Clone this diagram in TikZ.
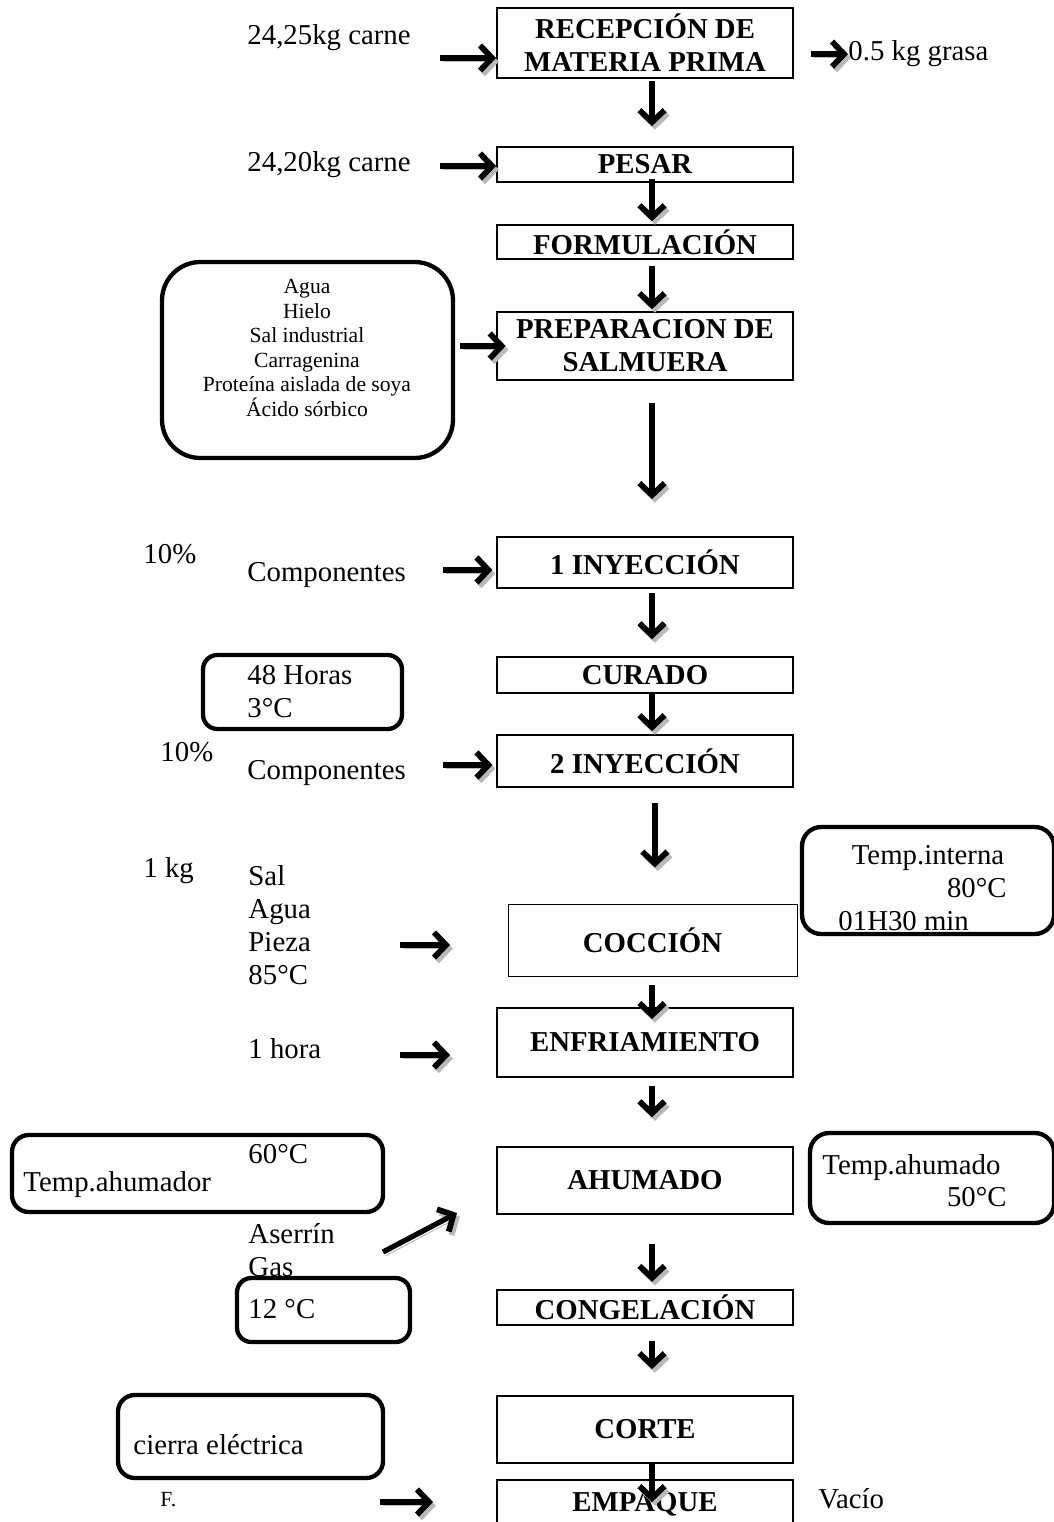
\documentclass[tikz,border=0pt]{standalone}
\usepackage{fontspec}
\setmainfont{Liberation Serif}
\usetikzlibrary{arrows.meta,positioning}
\tikzset{tam/.style 2 args={minimum width=#1*0.4167pt, minimum height=#2*0.4167pt}}

\begin{document}
\begin{tikzpicture}[
    x=0.4167pt, y=-0.4167pt,
    font=\fontsize{12}{13.8}\selectfont,
    etapa/.style={rectangle, draw, line width=0.8pt, inner sep=0pt, align=center, font=\fontsize{12}{13.8}\selectfont\bfseries},
    nota/.style={rectangle, draw, line width=1.8pt, rounded corners=#1, inner sep=0pt},
    txt/.style={inner sep=0pt, anchor=base west},
    flecha/.style={-{Straight Barb[length=5pt,width=10.5pt,line width=2.4pt]}, line width=2.2pt,
        preaction={draw=gray!55, transform canvas={shift={(1.2pt,-1.5pt)}}}}
]
\useasboundingbox (0,0) rectangle (1054,1522);
\clip (0,0) rectangle (1054,1522);
\coordinate (eje) at (652,0);

% etapas del proceso
\node[etapa, tam={296}{70}] (recepcion) at (645,43) {RECEPCIÓN DE\\MATERIA PRIMA};
\node[etapa, tam={296}{35}] (pesar) at (645,164.5) {PESAR};
\node[etapa, tam={296}{34}] (formulacion) at (645,242) {FORMULACIÓN};
\node[etapa, tam={296}{68}] (salmuera) at (645,346) {PREPARACION DE\\SALMUERA};
\node[etapa, tam={296}{51}] (iny1) at (645,562.5) {1 INYECCIÓN};
\node[etapa, tam={296}{36}] (curado) at (645,675) {CURADO};
\node[etapa, tam={296}{52}] (iny2) at (645,761) {2 INYECCIÓN};
\node[etapa, tam={289}{72}, line width=0.4pt] (coccion) at (652.5,940) {COCCIÓN};
\node[etapa, tam={296}{69}] (enfriamiento) at (645,1042.5) {ENFRIAMIENTO};
\node[etapa, tam={296}{67}] (ahumado) at (645,1180.5) {AHUMADO};
\node[etapa, tam={296}{35}] (congelacion) at (645,1307.5) {CONGELACIÓN};
\node[etapa, tam={296}{67}] (corte) at (645,1429.5) {CORTE};
\node[etapa, tam={296}{48}] (empaque) at (645,1504) {EMPAQUE};

% cuadros redondeados
\node[nota=16pt, tam={291}{196}] (ingred) at (307.5,360) {};
\node[nota=6pt, tam={199}{74}] (horasbox) at (302.5,692) {};
\node[nota=8pt, tam={252}{107}] (internabox) at (928,880.5) {};
\node[nota=7pt, tam={371}{77}] (ahumadorbox) at (197.5,1173.5) {};
\node[nota=8pt, tam={244}{90}] (ahumadobox) at (932,1178) {};
\node[nota=6pt, tam={173}{64}] (frio) at (323.5,1310) {};
\node[nota=7pt, tam={265}{83}] (cierrabox) at (250.5,1436.5) {};

% textos
\node[txt] (carne1) at (247,45) {24,25kg carne};
\node[txt] (grasa) at (848,61) {0.5 kg grasa};
\node[txt] (carne2) at (247,171) {24,20kg carne};
\node[align=center, font=\fontsize{9}{10.25}\selectfont] (lista) at (307,348)
    {Agua\\Hielo\\Sal industrial\\Carragenina\\Proteína aislada de soya\\Ácido sórbico};
\node[txt] (pct1) at (143,563) {10\%};
\node[txt] (comp1) at (247,581) {Componentes};
\node[txt] (horas) at (247,684) {48 Horas};
\node[txt] (tres) at (247,717) {3°C};
\node[txt] (pct2) at (160,761) {10\%};
\node[txt] (comp2) at (247,779) {Componentes};
\node[txt] (kg) at (143,877) {1 kg};
\node[txt] (sal) at (248,885) {Sal};
\node[txt] (agua) at (248,918) {Agua};
\node[txt] (pieza) at (248,951) {Pieza};
\node[txt] (ochenta5) at (248,984) {85°C};
\node[inner sep=0pt, anchor=base] (interna) at (928,864) {Temp.interna};
\node[inner sep=0pt, anchor=base east] (ochenta) at (1007,897) {80°C};
\node[txt] (tiempo) at (838,930) {01H30 min};
\node[txt] (hora) at (248,1058) {1 hora};
\node[txt] (sesenta) at (248,1163) {60°C};
\node[txt] (ahumador) at (23,1191) {Temp.ahumador};
\node[txt] (tahumado) at (822,1174) {Temp.ahumado};
\node[inner sep=0pt, anchor=base east] (cincuenta) at (1007,1206) {50°C};
\node[txt] (aserrin) at (248,1243) {Aserrín};
\node[txt] (gas) at (248,1276) {Gas};
\node[txt] (doce) at (248,1318) {12 °C};
\node[txt] (cierra) at (133,1454) {cierra eléctrica};
\node[txt, font=\fontsize{9}{10}\selectfont] (efe) at (160,1506) {F.};
\node[txt] (vacio) at (818,1508) {Vacío};

% flechas verticales
\draw[flecha, shorten <=1pt, shorten >=8.3pt] (recepcion.south -| eje) -- (pesar.north -| eje);
\draw[flecha, shorten <=-1.7pt, shorten >=1.2pt] (pesar.south -| eje) -- (formulacion.north -| eje);
\draw[flecha, shorten <=2.5pt, shorten >=0.8pt] (formulacion.south -| eje) -- (salmuera.north -| eje);
\draw[flecha, shorten <=9.2pt, shorten >=15.4pt] (salmuera.south -| eje) -- (iny1.north -| eje);
\draw[flecha, shorten <=1.7pt, shorten >=7pt] (iny1.south -| eje) -- (curado.north -| eje);
\draw[flecha, shorten <=0pt, shorten >=1.2pt] (curado.south -| eje) -- (iny2.north -| eje);
\draw[flecha, shorten <=6.2pt, shorten >=15pt] ([xshift=1.2pt]iny2.south -| eje) -- ([xshift=1.2pt]coccion.north -| eje);
\draw[flecha, shorten <=3.7pt, shorten >=-5pt] (coccion.south -| eje) -- (enfriamiento.north -| eje);
\draw[flecha, shorten <=3.3pt, shorten >=12pt] (enfriamiento.south -| eje) -- (ahumado.north -| eje);
\draw[flecha, shorten <=12pt, shorten >=3pt] (ahumado.south -| eje) -- (congelacion.north -| eje);
\draw[flecha, shorten <=6.2pt, shorten >=10.8pt] (congelacion.south -| eje) -- (corte.north -| eje);
\draw[flecha, shorten <=0pt, shorten >=-9.6pt] (corte.south -| eje) -- (empaque.north -| eje);

% flechas horizontales
\coordinate (e1) at (440,58);
\coordinate (e2) at (440,166);
\coordinate (e3) at (443,570);
\coordinate (e4) at (443,765);
\coordinate (e5) at (400,945);
\coordinate (e6) at (400,1055);
\coordinate (e7) at (383,1252);
\coordinate (e8) at (457,1213);
\coordinate (e9) at (380,1502);
\coordinate (e10) at (433,1502);
\draw[flecha] (e1) -- (e1 -| recepcion.west);
\draw[flecha] ([xshift=7pt]recepcion.east |- grasa.west) -- (grasa.west);
\draw[flecha] (e2) -- (e2 -| pesar.west);
\draw[flecha] ([xshift=2pt]ingred.east |- salmuera.west) -- ([xshift=4pt]salmuera.west);
\draw[flecha] (e3) -- ([xshift=-1.5pt]e3 -| iny1.west);
\draw[flecha] (e4) -- ([xshift=-1.5pt]e4 -| iny2.west);
\draw[flecha] (e5) -- ++(50,0);
\draw[flecha] (e6) -- ++(50,0);
\draw[flecha] (e7) -- (e8);
\draw[flecha] (e9) -- (e10);
\end{tikzpicture}
\end{document}
